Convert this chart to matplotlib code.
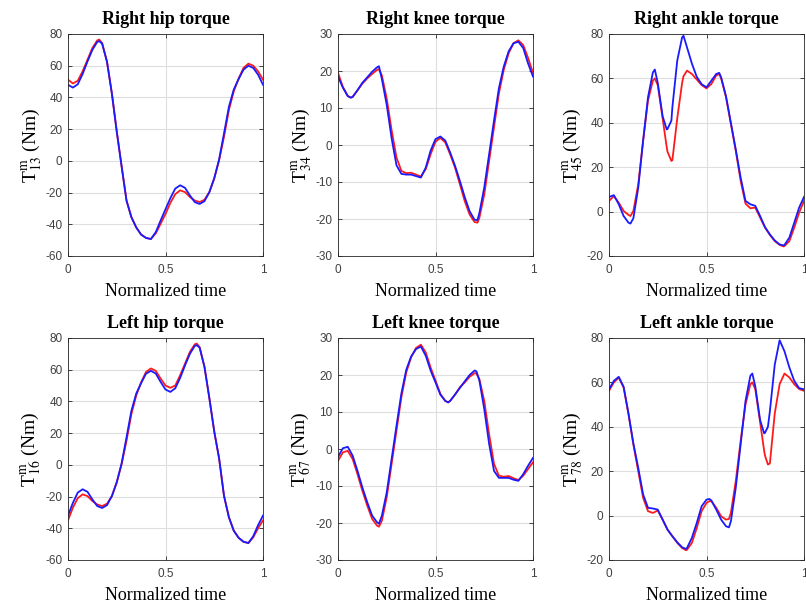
import numpy as np
import matplotlib
matplotlib.use("Agg")
import matplotlib.pyplot as plt

plt.rcParams['font.family'] = 'Liberation Serif'
plt.rcParams['mathtext.fontset'] = 'stix'
plt.rcParams['axes.unicode_minus'] = False

# ---- data (normalized time, torque in Nm) ----
# right hip
t_rhip = [0, 0.025, 0.05, 0.075, 0.1, 0.125, 0.15, 0.16, 0.175, 0.2, 0.225, 0.25, 0.275, 0.3,
          0.325, 0.35, 0.375, 0.4, 0.425, 0.45, 0.475, 0.5, 0.525, 0.55, 0.575, 0.6, 0.625,
          0.65, 0.675, 0.7, 0.725, 0.75, 0.775, 0.8, 0.825, 0.85, 0.875, 0.9, 0.925, 0.95,
          0.975, 1.0]
rhip_red = [51.2, 48.8, 50.5, 56.5, 63.8, 71.2, 76.0, 76.5, 74.3, 62.5, 42.5, 18.5, -3.5, -25,
            -35.5, -42, -46.5, -48.6, -49.3, -45.7, -39.7, -33.5, -26.5, -21, -18.6, -19.7, -22.8,
            -25, -26, -24.5, -19.7, -11, 0.4, 15.2, 32, 43.8, 52, 58.6, 61.3, 60, 56.4, 51.2]
rhip_blue = [48.0, 46.2, 48.3, 54.8, 62.7, 70.0, 75.0, 75.5, 73.9, 62.5, 42.5, 18.5, -3.5, -25,
             -35.5, -42, -46.5, -48.6, -49.3, -45.0, -37.6, -30.5, -23.5, -17.5, -15.4, -17, -21.8,
             -26, -27.2, -25.4, -19.7, -11, 1.0, 17.3, 34, 45, 51.6, 57.5, 60, 58.6, 54.3, 48.0]

# right knee
t_rknee = [0, 0.025, 0.05, 0.065, 0.075, 0.1, 0.125, 0.15, 0.175, 0.2, 0.21, 0.225, 0.25, 0.275,
           0.3, 0.325, 0.35, 0.375, 0.4, 0.425, 0.45, 0.475, 0.5, 0.525, 0.55, 0.575, 0.6, 0.625,
           0.65, 0.675, 0.7, 0.715, 0.725, 0.75, 0.775, 0.8, 0.825, 0.85, 0.875, 0.9, 0.925,
           0.95, 0.975, 1.0]
rknee_red = [19.5, 15.7, 13.3, 12.8, 13.0, 14.8, 16.6, 18.0, 19.2, 20.3, 20.5, 18.8, 12.5, 4.0,
             -3.4, -7.0, -7.6, -7.5, -8.0, -8.5, -6.5, -2.5, 0.9, 1.9, 0.7, -2.5, -6.1, -10.6,
             -15.2, -18.8, -20.8, -21.0, -19.7, -13.4, -4.3, 4.8, 13.9, 20.3, 24.8, 27.5, 28.3,
             27.0, 23.5, 19.5]
rknee_blue = [18.5, 15.5, 13.2, 12.8, 13.0, 14.8, 16.8, 18.3, 19.8, 21.0, 21.3, 17.8, 10.8, 1.8,
              -5.5, -7.8, -8.0, -8.0, -8.4, -8.8, -6.1, -1.5, 1.6, 2.3, 1.2, -2.0, -5.6, -9.7,
              -14.1, -17.9, -20.2, -20.3, -18.4, -11.5, -2.5, 6.6, 15.3, 21.2, 25.3, 27.5, 27.9,
              26.2, 22.0, 18.5]

# right ankle
t_rankle = [0, 0.025, 0.05, 0.075, 0.1, 0.11, 0.125, 0.15, 0.175, 0.2, 0.225, 0.235, 0.25, 0.275,
            0.296, 0.3, 0.32, 0.325, 0.35, 0.375, 0.382, 0.4, 0.425, 0.45, 0.475, 0.5, 0.525,
            0.55, 0.565, 0.575, 0.6, 0.625, 0.65, 0.675, 0.7, 0.725, 0.75, 0.775, 0.8, 0.825,
            0.85, 0.875, 0.895, 0.9, 0.925, 0.95, 0.975, 1.0]
rankle_red = [4.8, 7.0, 4.0, 0.3, -1.5, -2.0, 0.3, 12.3, 32, 50, 59, 60, 57, 42,
              29, 27, 22.8, 23.2, 42, 58, 61, 63.5, 62, 59.5, 57, 55.5, 57.5,
              61.3, 62, 60, 51.5, 39.5, 27.4, 13.9, 3.6, 1.5, 1.8, -2.7, -7.2, -10.5,
              -13.3, -15.0, -15.7, -15.5, -13.3, -7.2, -0.5, 4.8]
rankle_blue = [6.6, 7.4, 3.3, -2.0, -5.0, -5.4, -3.0, 10.8, 32, 51.5, 62.7, 64, 58, 43,
               37, 37.2, 41, 47, 68, 78.5, 79.2, 74, 66.7, 60.7, 57.4, 56, 59,
               62, 62.5, 60.5, 52, 40, 28, 15.4, 4.8, 3.3, 2.6, -2.0, -7.0, -10.3,
               -13.0, -14.8, -15.2, -15.0, -11.7, -5.0, 1.8, 6.6]

# left hip
t_lhip = [0, 0.025, 0.05, 0.075, 0.1, 0.125, 0.15, 0.175, 0.2, 0.225, 0.25, 0.275, 0.3, 0.325,
          0.35, 0.375, 0.4, 0.425, 0.45, 0.475, 0.5, 0.525, 0.55, 0.575, 0.6, 0.625, 0.65, 0.66,
          0.675, 0.7, 0.725, 0.75, 0.775, 0.8, 0.825, 0.85, 0.875, 0.9, 0.925, 0.95, 0.975, 1.0]
lhip_red = [-35, -27, -21, -18.6, -19.7, -22.8, -25, -26, -24.5, -19.7, -11, 0.4, 15.2, 32,
            43.8, 52, 58.6, 60.8, 59.3, 54.4, 50, 48.6, 50, 56.5, 63.8, 71.2, 76, 76.5,
            74.3, 61.7, 42, 21, 4, -19.5, -33, -41.5, -46, -48.5, -49.3, -45.7, -40, -35]
lhip_blue = [-32, -24, -17.5, -15.4, -17, -21.8, -26, -27.2, -25.4, -19.7, -11, 1.0, 17.3, 34,
             45, 51.6, 57.5, 59.3, 57.6, 52.3, 47.5, 46, 48.3, 54.8, 62.7, 70, 75, 75.5,
             73.9, 61.7, 42, 21, 4, -19.5, -33, -41.5, -46, -48.5, -49.3, -45, -38, -32]

# left knee
t_lknee = [0, 0.025, 0.05, 0.075, 0.1, 0.125, 0.15, 0.175, 0.2, 0.21, 0.225, 0.25, 0.275, 0.3,
           0.325, 0.35, 0.375, 0.4, 0.425, 0.45, 0.475, 0.5, 0.525, 0.55, 0.565, 0.575, 0.6,
           0.625, 0.65, 0.675, 0.7, 0.71, 0.725, 0.75, 0.775, 0.8, 0.825, 0.85, 0.875, 0.9,
           0.925, 0.95, 0.975, 1.0]
lknee_red = [-3.2, -0.9, -0.5, -2.7, -6.8, -11.3, -15.3, -18.9, -20.7, -21.0, -19.4, -13.0, -4.0,
             5.0, 14.0, 20.7, 24.8, 27.3, 28.2, 26.1, 22.0, 18.5, 14.9, 13.0, 12.6, 13.0, 14.7,
             16.7, 18.0, 19.5, 20.5, 20.4, 18.9, 13.0, 4.0, -4.0, -7.2, -7.5, -7.3, -7.9,
             -8.4, -7.2, -5.4, -3.6]
lknee_blue = [-2.1, 0.2, 0.6, -1.8, -5.9, -10.4, -14.4, -18.0, -19.8, -20.2, -18.0, -11.7, -2.7,
              6.3, 15.0, 21.4, 25.0, 27.0, 27.7, 25.2, 21.2, 18.0, 14.7, 13.0, 12.6, 13.0, 14.7,
              16.5, 18.3, 20.0, 21.2, 21.0, 18.5, 10.8, 1.4, -5.9, -7.8, -7.8, -7.8, -8.3,
              -8.6, -6.8, -4.5, -2.4]

# left ankle
t_lankle = [0, 0.025, 0.05, 0.075, 0.1, 0.125, 0.15, 0.175, 0.2, 0.225, 0.25, 0.275, 0.3, 0.325,
            0.35, 0.375, 0.395, 0.4, 0.425, 0.45, 0.475, 0.5, 0.515, 0.525, 0.55, 0.575, 0.6,
            0.615, 0.625, 0.65, 0.675, 0.7, 0.725, 0.735, 0.75, 0.775, 0.796, 0.8, 0.815, 0.825,
            0.85, 0.875, 0.9, 0.925, 0.95, 0.975, 1.0]
lankle_red = [56.2, 60, 62.2, 57.7, 45.6, 32, 20, 8, 2, 1.2, 2.3, -1.8, -6.3, -9.3,
              -12.3, -14.6, -15.6, -15.4, -12.3, -5.6, 2, 5.7, 6.5, 6.5, 3.5, -0.3, -1.8,
              -1.5, 1.2, 15.5, 33.6, 50, 59.2, 60, 57, 42, 29, 27, 23, 23.5,
              46, 59.2, 64, 62.2, 59.2, 57, 56.2]
lankle_blue = [56.9, 60.7, 62.5, 58, 46, 32.5, 21.5, 9.5, 3.5, 3.2, 2.7, -1.8, -6.3, -9.3,
               -12.0, -14.3, -15, -14.6, -10, -3.3, 4.2, 7.2, 7.5, 6.8, 2.7, -1.8, -4.8,
               -5.3, -2.6, 12.5, 32, 51.6, 63, 64, 58.3, 43, 37, 37.3, 40, 47,
               68, 79, 74, 66.7, 60.7, 57.4, 56.9]

titles = ['Right hip torque', 'Right knee torque', 'Right ankle torque',
          'Left hip torque', 'Left knee torque', 'Left ankle torque']
ylabels = [r'T$^{\rm m}_{13}$ (Nm)', r'T$^{\rm m}_{34}$ (Nm)', r'T$^{\rm m}_{45}$ (Nm)',
           r'T$^{\rm m}_{16}$ (Nm)', r'T$^{\rm m}_{67}$ (Nm)', r'T$^{\rm m}_{78}$ (Nm)']
ylims = [(-60, 80), (-30, 30), (-20, 80), (-60, 80), (-30, 30), (-20, 80)]
ysteps = [20, 10, 20, 20, 10, 20]

times = [t_rhip, t_rknee, t_rankle, t_lhip, t_lknee, t_lankle]
reds = [rhip_red, rknee_red, rankle_red, lhip_red, lknee_red, lankle_red]
blues = [rhip_blue, rknee_blue, rankle_blue, lhip_blue, lknee_blue, lankle_blue]

fig = plt.figure(figsize=(8.06, 6.08), dpi=100)

lefts = [68, 338, 609]
bottoms = [256, 560]
w_px, h_px = 195, 222

for k in range(6):
    row, col = k // 3, k % 3
    ax = fig.add_axes([lefts[col] / 806, 1 - bottoms[row] / 608, w_px / 806, h_px / 608])
    ax.plot(times[k], reds[k], color='#ff1a1a', linewidth=1.3, solid_joinstyle='round')
    ax.plot(times[k], blues[k], color='#1a1aff', linewidth=1.3, solid_joinstyle='round')

    ax.set_xlim(0, 1)
    ax.set_ylim(*ylims[k])
    ax.set_xticks([0, 0.5, 1])
    ax.set_xticklabels(['0', '0.5', '1'])
    ax.set_yticks(np.arange(ylims[k][0], ylims[k][1] + 1, ysteps[k]))

    ax.grid(True, color='#dedede', linewidth=0.8)
    ax.set_axisbelow(True)
    for s in ax.spines.values():
        s.set_color('#262626')
        s.set_linewidth(0.6)
    ax.tick_params(direction='in', top=True, right=True, length=3, width=0.6,
                   color='#262626', labelcolor='#404040', labelsize=8.5)
    ax.tick_params(axis='x', pad=6)
    ax.tick_params(axis='y', pad=4)
    for lab in ax.get_xticklabels() + ax.get_yticklabels():
        lab.set_family('Liberation Sans')

    ax.set_title(titles[k], fontsize=13, fontweight='bold', pad=7)
    ax.set_xlabel('Normalized time', fontsize=13, labelpad=5)
    ax.set_ylabel(ylabels[k], fontsize=14, labelpad=1)

fig.savefig('out.png', dpi=100)
